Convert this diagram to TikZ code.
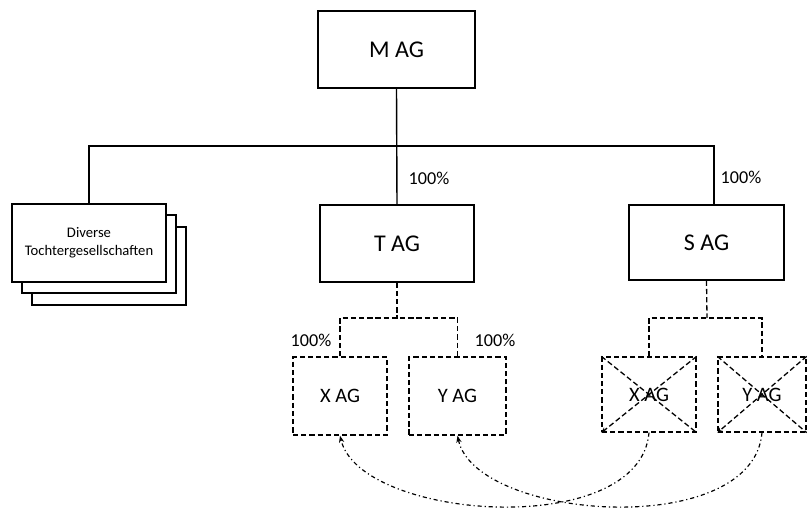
\documentclass[tikz,border=0pt]{standalone}
\usepackage{fontspec}
\setmainfont{Carlito}
\usetikzlibrary{arrows.meta}
\begin{document}
\begin{tikzpicture}[x=0.03cm,y=-0.03cm,
  box/.style={draw,line width=1.1pt,fill=white,inner sep=0pt,align=center},
  bigbox/.style={box,minimum width=4.65cm,minimum height=2.31cm,font=\fontsize{20.5}{24}\selectfont},
  smallbox/.style={box,dashbox,minimum width=2.85cm,minimum height=2.34cm,font=\fontsize{17.5}{20}\selectfont},
  dashbox/.style={dash pattern=on 4.5pt off 2.5pt},
  conn/.style={line width=1.2pt},
  dconn/.style={line width=1.1pt,dash pattern=on 4.5pt off 2.5pt},
  ddconn/.style={line width=1pt,dash pattern=on 3.5pt off 2.5pt on 1pt off 2.5pt,-{Stealth[length=6pt,width=4.5pt]}},
  pct/.style={font=\fontsize{15.5}{18}\selectfont,inner sep=0pt}]
\useasboundingbox (0,0) rectangle (807,510);
% top
\node[bigbox,minimum width=4.71cm] (m) at (396.5,49.5) {M AG};
\node[bigbox,minimum width=4.62cm] (t) at (397,243.5) {T AG};
\node[bigbox,minimum height=2.25cm] (s) at (706.5,242.5) {S AG};
% stacked boxes
\node[box,minimum width=4.62cm,minimum height=2.34cm] (div3) at (109,266) {};
\node[box,minimum width=4.62cm,minimum height=2.34cm] (div2) at (99,254) {};
\node[box,minimum width=4.62cm,minimum height=2.34cm,font=\fontsize{12.5}{15.5}\selectfont] (div) at (89,243) {Diverse\\Tochtergesellschaften};
% level 2
\node[smallbox,minimum width=2.82cm] (x) at (340,396) {X AG};
\node[smallbox,minimum width=2.91cm] (y) at (457.5,396) {Y AG};
\node[smallbox,minimum width=2.82cm,minimum height=2.25cm] (sx) at (649,394.5) {X AG};
\node[smallbox,minimum width=2.64cm,minimum height=2.25cm] (sy) at (762,394.5) {Y AG};
% connectors top
\coordinate (bus) at (397,146);
\coordinate (sin) at (714,205);
\draw[conn] (m.south) -- (t.north);
\draw[conn] (div.north) |- (bus) -| (sin);
% dashed trees
\coordinate (tb) at (397,318);
\coordinate (sb) at (707,318);
\draw[dconn] (t.south) -- (tb);
\draw[dconn] (x.north) |- (tb) -| (y.north);
\draw[dconn] (s.south) -- (sb);
\draw[dconn] (sx.north) |- (sb) -| (sy.north);
% crosses
\draw[dconn] (sx.north west) -- (sx.south east);
\draw[dconn,-{Stealth[length=4.5pt,width=4pt]}] (sx.north east) -- (sx.south west);
\draw[dconn] (sy.north west) -- (sy.south east);
\draw[dconn,-{Stealth[length=4.5pt,width=4pt]}] (sy.north east) -- (sy.south west);
% percentages
\node[pct] (p1) at (429,178) {100\%};
\node[pct] (p2) at (741,177) {100\%};
\node[pct] (p3) at (311,340) {100\%};
\node[pct] (p4) at (495,340) {100\%};
% dash-dot curves
\draw[ddconn] (sx.south) .. controls +(-9,108) and +(20,85) .. (x.south);
\draw[ddconn] (sy.south) .. controls +(-9,108) and +(18,85) .. (y.south);
\end{tikzpicture}
\end{document}
